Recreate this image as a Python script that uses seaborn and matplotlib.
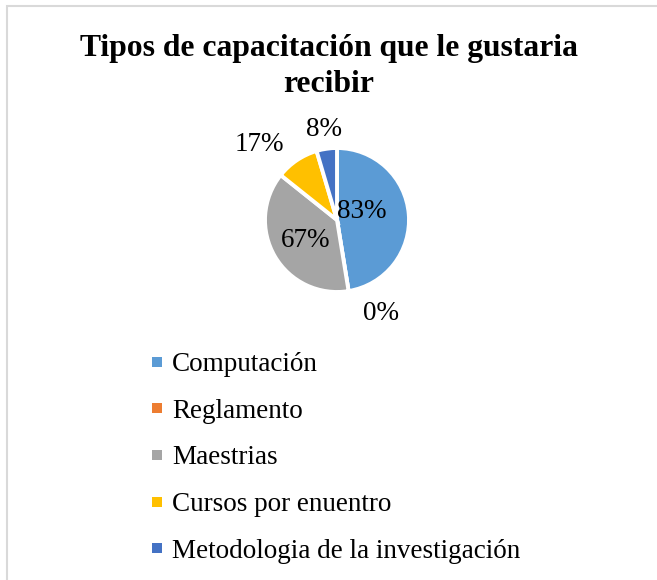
import numpy as np
import seaborn as sns
import matplotlib.pyplot as plt
import matplotlib.patches as mpatches
from matplotlib.lines import Line2D

# data
categories = ["Computación", "Reglamento", "Maestrias", "Cursos por enuentro",
              "Metodologia de la investigación"]
values = [83, 0, 67, 17, 8]
value_labels = ["83%", "0%", "67%", "17%", "8%"]
colors = ["#5B9BD5", "#ED7D31", "#A5A5A5", "#FFC000", "#4472C4"]
title = "Tipos de capacitación que le gustaria\nrecibir"

sns.set_theme(style="white")
plt.rcParams['font.family'] = ['Liberation Serif', 'DejaVu Serif']
plt.rcParams['text.color'] = 'black'

W, H = 657, 580
fig = plt.figure(figsize=(W / 100, H / 100), dpi=100)

# pie axes (centre ~ (337, 220) px, radius ~ 72 px)
cx, cy, r = 337, 220, 72
ax = fig.add_axes([(cx - r) / W, 1 - (cy + r) / H, 2 * r / W, 2 * r / H])
palette = sns.color_palette(colors)
wedges, _ = ax.pie(values, colors=palette, startangle=90,
                   counterclock=False,
                   wedgeprops=dict(edgecolor="white", linewidth=2.8))
ax.set_xlim(-1, 1)
ax.set_ylim(-1, 1)
ax.set_aspect("equal")
ax.axis("off")

# label placement (radius factor, angle tweak in degrees) - excel "best fit"
label_pos = [(0.37, 14), (1.43, 16), (0.52, 2), (1.50, 12), (1.27, 0)]
for w, txt, (dist, tweak) in zip(wedges, value_labels, label_pos):
    ang = np.radians((w.theta1 + w.theta2) / 2 + tweak)
    ax.text(dist * np.cos(ang), dist * np.sin(ang), txt, ha="center", va="center",
            fontsize=19.5, color="black", clip_on=False)

fig.text(0.5, 1 - 66.5 / H, title, ha="center", va="center", fontsize=22.8,
         fontweight="bold", linespacing=1.32)

handles = [Line2D([], [], marker="s", linestyle="None", markersize=6.5,
                  markeredgewidth=0, color=c) for c in palette]
leg = fig.legend(handles, categories, loc="upper left",
                 bbox_to_anchor=(152 / W, 1 - 352 / H), frameon=False,
                 fontsize=19.5, handlelength=0.35, handletextpad=0.39,
                 labelspacing=0.80, borderpad=0, borderaxespad=0)

# chart border
fig.add_artist(mpatches.Rectangle((6.5 / W, -0.1), 1.0, 1 - 5.5 / H + 0.1,
                                  transform=fig.transFigure, fill=False,
                                  edgecolor="#D9D9D9", linewidth=1.5))

fig.savefig("out.png", dpi=100)
